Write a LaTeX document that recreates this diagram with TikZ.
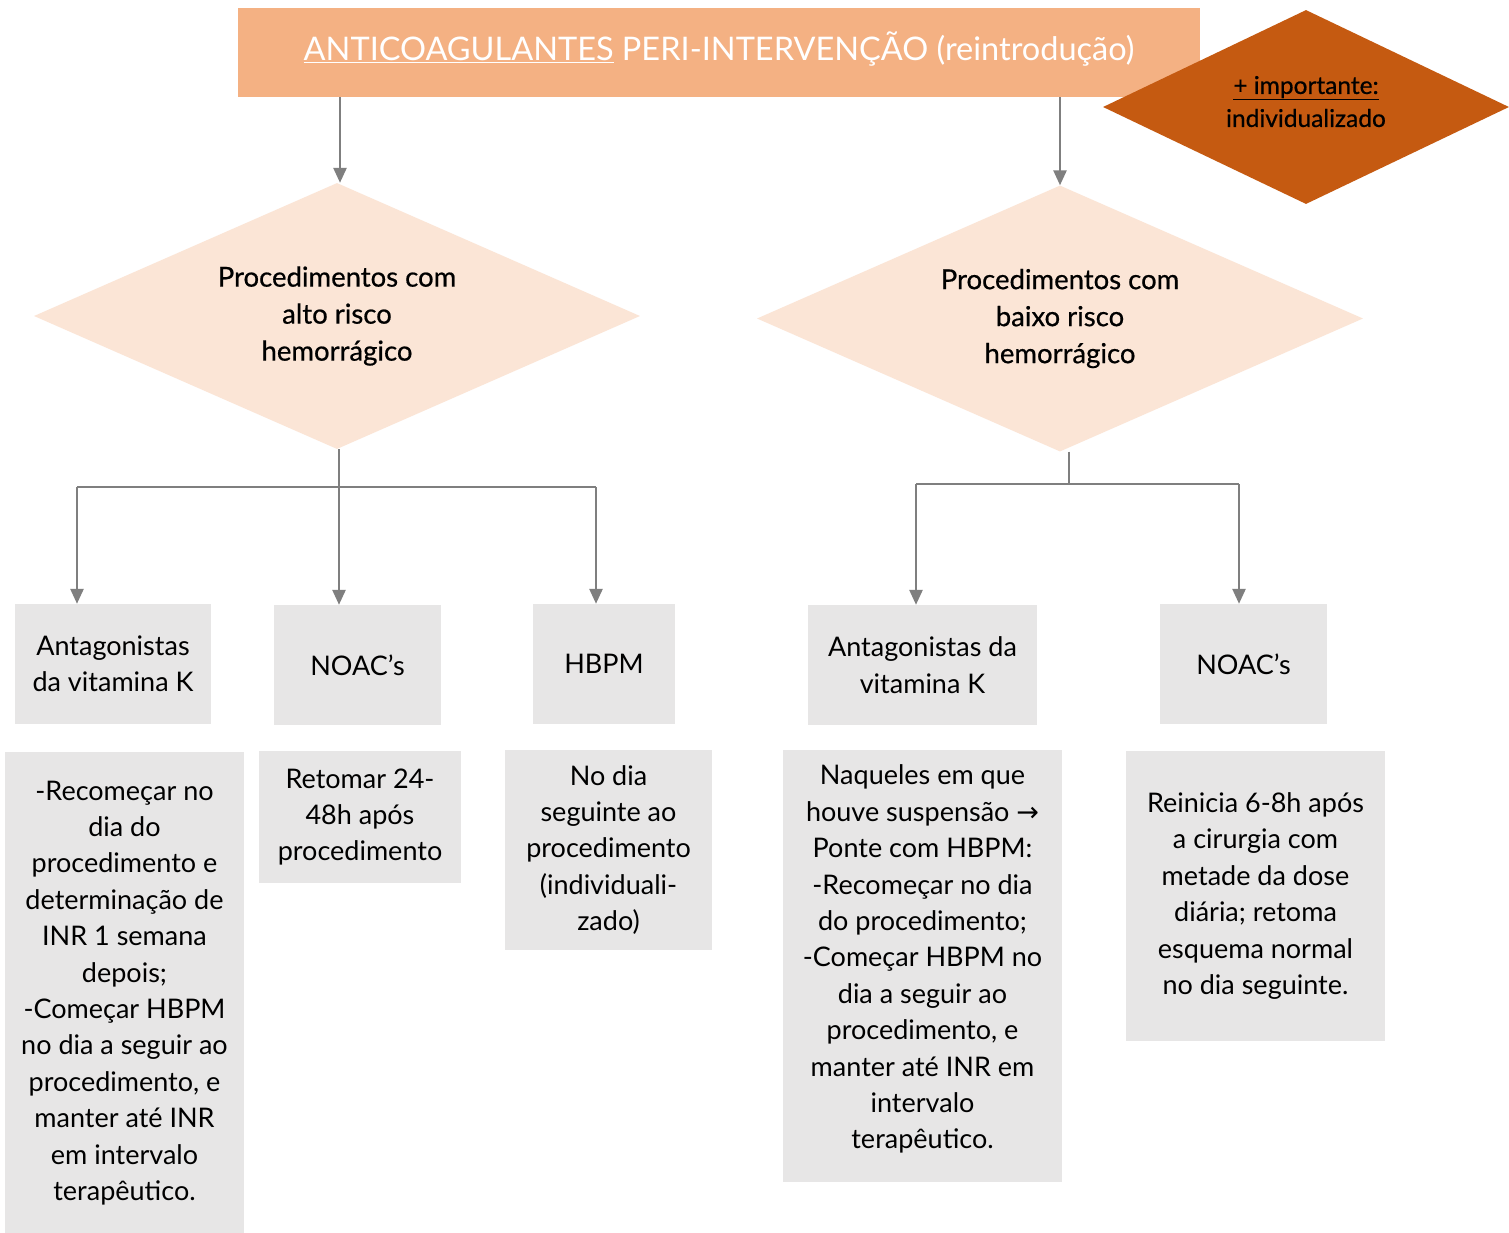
\documentclass[tikz,border=0pt]{standalone}
\usepackage{fontspec}
\setmainfont{Lato}
\newfontfamily\setafont{DejaVu Sans}
\newfontfamily\medio[FakeBold=0.6]{Lato}
\usetikzlibrary{shapes.geometric,arrows.meta}
\definecolor{titulo}{HTML}{F4B183}
\definecolor{laranja}{HTML}{C55A11}
\definecolor{pele}{HTML}{FBE5D6}
\definecolor{cinza}{HTML}{E7E6E6}
\definecolor{linha}{HTML}{7F7F7F}
\begin{document}
\begin{tikzpicture}[x=1pt,y=-1pt,
  caixa/.style={fill=cinza, inner sep=0pt, align=center, font=\fontsize{27}{36.4}\selectfont},
  losango/.style={diamond, fill=pele, inner sep=0pt, aspect=2.28, minimum width=606pt, minimum height=266pt, align=center, font=\medio\fontsize{27.5}{37}\selectfont},
  seta/.style={draw=linha, line width=2.6pt, -{Triangle[length=15pt,width=13pt]}},
  traco/.style={draw=linha, line width=2.6pt}]
\fill[white] (0,0) rectangle (1509,1232);
\useasboundingbox (0,0) rectangle (1509,1232);
\node[fill=titulo, text=white, minimum width=962pt, minimum height=89pt, inner sep=0pt, font=\fontsize{32.5}{36}\selectfont] (titulo) at (719,52.5){\raisebox{12pt}{\underline{ANTICOAGULANTES} PERI-INTERVENÇÃO (reintrodução)}};
\node[diamond, fill=laranja, inner sep=0pt, aspect=2.1, minimum width=406pt, minimum height=194pt, text depth=11pt, align=center, font=\medio\fontsize{24.5}{33}\selectfont] (nota) at (1306,107){\underline{+ importante:}\\individualizado};
\node[losango] (ldia) at (337,316){Procedimentos com\\alto risco\\hemorrágico};
\node[losango] (rdia) at (1060,318.5){Procedimentos com\\baixo risco\\hemorrágico};
\draw[seta](titulo.south -| 340,0) -- (ldia.north -| 340,0);
\draw[seta](titulo.south -| rdia.north) -- (rdia.north);
\node[caixa, minimum width=196pt, minimum height=120pt] (lavk) at (113,664){Antagonistas\\da vitamina K};
\node[caixa, minimum width=167pt, minimum height=120pt] (lnoac) at (357.5,665){NOAC’s};
\node[caixa, minimum width=142pt, minimum height=120pt] (hbpm) at (604,664){HBPM};
\node[caixa, minimum width=229pt, minimum height=120pt] (ravk) at (922.5,665){Antagonistas da\\vitamina K};
\node[caixa, minimum width=167pt, minimum height=120pt] (rnoac) at (1243.5,664){NOAC’s};
\coordinate (lbus) at (339,487);
\coordinate (lk1) at (77,487);
\coordinate (lk3) at (596,487);
\draw[traco](ldia.south -| lbus) -- (lbus);
\draw[traco](lk1) -- (lk3);
\draw[seta](lk1) -- (lk1 |- lavk.north);
\draw[seta](lbus) -- (lbus |- lnoac.north);
\draw[seta](lk3) -- (lk3 |- hbpm.north);
\coordinate (rbus) at (1069,484);
\coordinate (rk1) at (916,484);
\coordinate (rk2) at (1239,484);
\draw[traco](rdia.south -| rbus) -- (rbus);
\draw[traco](rk1) -- (rk2);
\draw[seta](rk1) -- (rk1 |- ravk.north);
\draw[seta](rk2) -- (rk2 |- rnoac.north);
\node[caixa, minimum width=239pt, minimum height=482pt] (ltxt1) at (124.5,993){-Recomeçar no\\dia do\\procedimento e\\determinação de\\INR 1 semana\\depois;\\-Começar HBPM\\no dia a seguir ao\\procedimento, e\\manter até INR\\em intervalo\\terapêutico.};
\node[caixa, minimum width=202pt, minimum height=132pt] (ltxt2) at (360,817){Retomar 24-\\48h após\\procedimento};
\node[caixa, minimum width=207pt, minimum height=200pt] (ltxt3) at (608.5,850){No dia\\seguinte ao\\procedimento\\(individuali-\\zado)};
\node[caixa, minimum width=279pt, minimum height=432pt, text depth=18pt] (rtxt1) at (922.5,966){Naqueles em que\\houve suspensão {\setafont→}\\Ponte com HBPM:\\-Recomeçar no dia\\do procedimento;\\-Começar HBPM no\\dia a seguir ao\\procedimento, e\\manter até INR em\\intervalo\\terapêutico.};
\node[caixa, minimum width=259pt, minimum height=290pt] (rtxt2) at (1255.5,896){Reinicia 6-8h após\\a cirurgia com\\metade da dose\\diária; retoma\\esquema normal\\no dia seguinte.};
\end{tikzpicture}
\end{document}
